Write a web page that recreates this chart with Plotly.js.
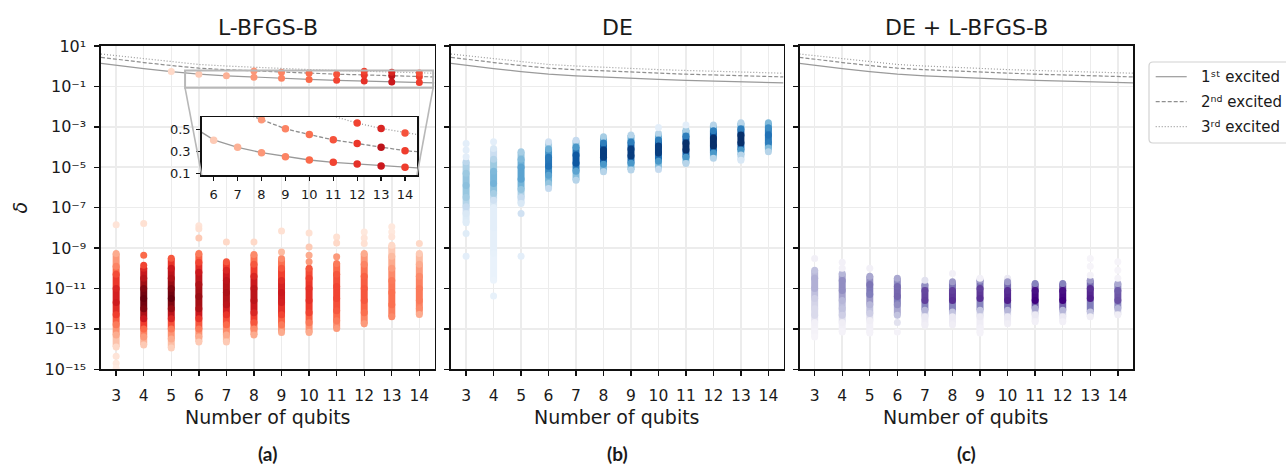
<!DOCTYPE html>
<html><head><meta charset="utf-8">
<script src="https://cdn.plot.ly/plotly-3.0.1.min.js"></script>
<style>html,body{margin:0;padding:0;background:#fff}</style>
</head><body><div id="chart" style="width:1286px;height:464px"></div>
<script>
// ---------------- data ----------------
const qubits = [3,4,5,6,7,8,9,10,11,12,13,14];
const panelTitles = ['L-BFGS-B', 'DE', 'DE + L-BFGS-B'];
const panelLabels = ['(a)', '(b)', '(c)'];
const yTickVals = [1e1,1e-1,1e-3,1e-5,1e-7,1e-9,1e-11,1e-13,1e-15];
const yTickText = ['10¹','10⁻¹','10⁻³','10⁻⁵','10⁻⁷','10⁻⁹','10⁻¹¹','10⁻¹³','10⁻¹⁵'];
const legendNames = ['1ˢᵗ excited','2ⁿᵈ excited','3ʳᵈ excited'];

// energy gaps of excited states
const gapX = [2.45,3,4,5,6,7,8,9,10,11,12,13,14,14.55];
const gap1 = [1.39,1.1,0.76,0.54,0.403,0.336,0.287,0.251,0.221,0.2,0.185,0.166,0.155,0.148];
const gap2 = [2.75,2.2,1.52,1.08,0.8,0.67,0.585,0.503,0.451,0.403,0.37,0.336,0.305,0.295];
const gap3 = [4.0,3.3,2.3,1.62,1.22,1.02,0.88,0.77,0.68,0.615,0.555,0.506,0.466,0.45];

// L-BFGS-B runs trapped in excited states
const trappedX = [5,6,7,8,8,9,9,10,10,11,11,12,12,12,13,13,13,14,14,14];
const trappedDelta = [0.54,0.40,0.336,0.287,0.585,0.251,0.503,0.221,0.451,0.20,0.403,0.185,0.37,0.555,0.166,0.336,0.506,0.155,0.305,0.466];
const trappedDensity = [0.15,0.2,0.28,0.36,0.36,0.42,0.42,0.5,0.48,0.6,0.56,0.66,0.64,0.6,0.75,0.8,0.7,0.62,0.62,0.56];

// per-column density profiles: [log10(delta), density] from top to bottom
const lbfgsbBars = [
 [[-9.27,0.3],[-9.9,0.42],[-10.3,0.58],[-11.0,0.7],[-11.7,0.74],[-12.3,0.62],[-12.8,0.45],[-13.3,0.3],[-13.9,0.15]],
 [[-10.0,0.7],[-10.5,0.82],[-11.0,0.95],[-11.5,1.0],[-12.0,0.95],[-12.5,0.75],[-13.0,0.5],[-13.4,0.35],[-13.8,0.2]],
 [[-9.5,0.55],[-10.0,0.75],[-10.5,0.85],[-11.0,0.95],[-11.5,1.0],[-12.0,0.9],[-12.5,0.7],[-13.0,0.45],[-13.5,0.3],[-13.95,0.18]],
 [[-9.27,0.45],[-9.7,0.6],[-10.2,0.75],[-10.8,0.85],[-11.4,0.9],[-12.0,0.85],[-12.5,0.65],[-13.0,0.45],[-13.4,0.3],[-13.65,0.2]],
 [[-9.68,0.55],[-10.1,0.7],[-10.6,0.8],[-11.2,0.85],[-11.8,0.8],[-12.3,0.65],[-12.8,0.5],[-13.3,0.3],[-13.65,0.2]],
 [[-9.32,0.4],[-9.8,0.55],[-10.4,0.7],[-11.0,0.8],[-11.6,0.8],[-12.2,0.7],[-12.7,0.55],[-13.0,0.4],[-13.3,0.3]],
 [[-9.52,0.4],[-10.0,0.55],[-10.6,0.68],[-11.2,0.75],[-11.7,0.72],[-12.3,0.6],[-12.8,0.45],[-13.18,0.3]],
 [[-10.0,0.55],[-10.5,0.62],[-11.0,0.66],[-11.6,0.66],[-12.2,0.6],[-12.7,0.45],[-13.18,0.3]],
 [[-9.76,0.45],[-10.3,0.55],[-10.9,0.6],[-11.5,0.6],[-12.1,0.55],[-12.6,0.45],[-12.98,0.35]],
 [[-9.27,0.3],[-9.8,0.42],[-10.4,0.52],[-11.0,0.55],[-11.6,0.55],[-12.2,0.48],[-12.74,0.35]],
 [[-8.86,0.15],[-9.4,0.25],[-10.0,0.35],[-10.6,0.45],[-11.2,0.48],[-11.8,0.48],[-12.4,0.4]],
 [[-9.27,0.2],[-9.8,0.3],[-10.4,0.4],[-11.0,0.45],[-11.6,0.45],[-12.0,0.4],[-12.29,0.3]]
];
const lbfgsbOutliers = [
 [[-7.85,0.1],[-14.35,0.1],[-14.7,0.08],[-14.95,0.06]],
 [[-7.78,0.12],[-9.35,0.5],[-9.85,0.6]],
 [],
 [[-7.9,0.1],[-8.05,0.12],[-8.5,0.2]],
 [[-8.7,0.15]],
 [[-8.7,0.15]],
 [[-8.16,0.12],[-9.19,0.25]],
 [[-8.25,0.12],[-8.95,0.2],[-9.35,0.3],[-9.68,0.35]],
 [[-8.45,0.12],[-8.75,0.15],[-9.43,0.35]],
 [[-8.2,0.08],[-8.5,0.1],[-8.77,0.12]],
 [[-7.95,0.08],[-8.2,0.08],[-8.44,0.1]],
 [[-8.77,0.15]]
];
const deBars = [
 [[-4.73,0.28],[-5.3,0.38],[-5.9,0.42],[-6.5,0.36],[-6.95,0.25],[-7.3,0.15],[-7.75,0.12]],
 [[-4.07,0.15],[-4.6,0.3],[-5.2,0.45],[-5.8,0.48],[-6.3,0.35],[-6.63,0.2],[-7.0,0.1],[-8.0,0.1],[-9.27,0.08],[-10.59,0.06]],
 [[-4.23,0.35],[-4.6,0.45],[-5.0,0.55],[-5.6,0.55],[-6.1,0.4],[-6.5,0.25],[-6.79,0.15]],
 [[-3.74,0.2],[-4.1,0.5],[-4.5,0.72],[-4.95,0.75],[-5.4,0.55],[-5.8,0.4],[-6.05,0.25]],
 [[-3.66,0.25],[-4.0,0.6],[-4.4,0.85],[-4.8,0.85],[-5.2,0.55],[-5.64,0.3]],
 [[-3.49,0.35],[-3.8,0.7],[-4.15,0.95],[-4.5,0.95],[-4.85,0.6],[-5.22,0.3]],
 [[-3.41,0.3],[-3.75,0.7],[-4.1,0.95],[-4.45,0.95],[-4.8,0.6],[-5.14,0.3]],
 [[-3.33,0.3],[-3.65,0.7],[-3.95,0.95],[-4.3,0.95],[-4.7,0.6],[-5.11,0.25]],
 [[-3.16,0.35],[-3.45,0.7],[-3.8,1.0],[-4.15,1.0],[-4.5,0.6],[-4.81,0.3]],
 [[-2.91,0.3],[-3.2,0.7],[-3.55,1.0],[-3.95,1.0],[-4.3,0.6],[-4.56,0.3]],
 [[-2.8,0.3],[-3.1,0.7],[-3.4,1.0],[-3.8,1.0],[-4.15,0.6],[-4.4,0.3],[-4.65,0.15]],
 [[-2.8,0.45],[-3.05,0.65],[-3.4,0.75],[-3.8,0.7],[-4.05,0.45],[-4.23,0.3]]
];
const deOutliers = [
 [[-3.82,0.1],[-4.15,0.1],[-4.48,0.1],[-8.28,0.12],[-9.4,0.1]],
 [[-3.74,0.1],[-11.37,0.08]],
 [[-7.29,0.2],[-9.4,0.1]],
 [],[],[],[],
 [[-3.03,0.1]],
 [[-2.91,0.1]],
 [],[],[]
];
const hybridBars = [
 [[-10.1,0.35],[-10.5,0.42],[-11.0,0.42],[-11.5,0.3],[-12.0,0.25],[-12.32,0.25],[-12.7,0.1],[-13.15,0.08],[-13.4,0.06]],
 [[-10.26,0.4],[-10.6,0.55],[-11.1,0.55],[-11.6,0.4],[-12.0,0.35],[-12.32,0.3],[-12.7,0.12],[-13.15,0.08]],
 [[-10.4,0.45],[-10.8,0.65],[-11.3,0.62],[-11.8,0.4],[-12.24,0.3],[-12.6,0.12],[-13.2,0.08]],
 [[-10.5,0.45],[-10.9,0.68],[-11.4,0.7],[-11.8,0.55],[-12.32,0.35]],
 [[-10.8,0.55],[-11.1,0.78],[-11.6,0.8],[-12.08,0.4],[-12.4,0.15],[-12.82,0.12]],
 [[-10.67,0.5],[-11.1,0.8],[-11.6,0.85],[-12.16,0.35],[-12.4,0.15],[-12.8,0.12]],
 [[-10.59,0.5],[-11.0,0.8],[-11.5,0.85],[-12.08,0.35],[-12.4,0.15],[-12.95,0.1],[-13.2,0.08]],
 [[-10.5,0.15],[-10.67,0.5],[-11.1,0.85],[-11.6,0.9],[-12.08,0.4],[-12.4,0.15],[-12.75,0.12]],
 [[-10.75,0.6],[-11.1,0.95],[-11.6,1.0],[-11.99,0.45],[-12.3,0.15],[-12.65,0.1]],
 [[-10.75,0.6],[-11.1,0.95],[-11.6,1.0],[-12.08,0.4],[-12.4,0.15],[-12.65,0.1]],
 [[-10.59,0.5],[-11.0,0.85],[-11.5,0.9],[-12.16,0.35],[-12.4,0.12]],
 [[-10.75,0.45],[-11.1,0.72],[-11.6,0.75],[-11.99,0.4],[-12.3,0.12]]
];
const hybridOutliers = [
 [[-9.52,0.1]],
 [[-9.7,0.1],[-10.0,0.1]],
 [[-10.0,0.1]],
 [[-12.69,0.2],[-13.15,0.08]],
 [[-10.59,0.2]],
 [[-10.26,0.1]],
 [[-10.5,0.1]],
 [],[],[],
 [[-9.52,0.06],[-9.9,0.06],[-10.34,0.08]],
 [[-9.68,0.06],[-10.1,0.06],[-10.5,0.08]]
];

// ---------------- styling ----------------
const REDS = ['#fff5f0','#fee0d2','#fcbba1','#fc9272','#fb6a4a','#ef3b2c','#cb181d','#a50f15','#67000d'];
const BLUES = ['#f7fbff','#deebf7','#c6dbef','#9ecae1','#6baed6','#4292c6','#2171b5','#08519c','#08306b'];
const PURPLES = ['#fcfbfd','#efedf5','#dadaeb','#bcbddc','#9e9ac8','#807dba','#6a51a3','#54278f','#3f007d'];
function hex2rgb(h){return [parseInt(h.slice(1,3),16),parseInt(h.slice(3,5),16),parseInt(h.slice(5,7),16)];}
function cmap(sc,t){
  t=Math.max(0,Math.min(1,t)); const n=sc.length-1; const f=t*n; const i=Math.min(Math.floor(f),n-1); const u=f-i;
  const a=hex2rgb(sc[i]), b=hex2rgb(sc[i+1]);
  return 'rgb('+a.map((v,k)=>Math.round(v+(b[k]-v)*u)).join(',')+')';
}
const W=1286, H=464;
const px=x=>x/W, py=y=>1-y/H;
const FONT='DejaVu Sans';
const TXT='#1a1a1a';
const GRID='#ececec';
const COLW=7;

const panels = [
  {bars:lbfgsbBars, out:lbfgsbOutliers, sc:REDS, xa:'x', ya:'y', dom:[101,434.5]},
  {bars:deBars, out:deOutliers, sc:BLUES, xa:'x2', ya:'y2', dom:[451,783.5]},
  {bars:hybridBars, out:hybridOutliers, sc:PURPLES, xa:'x3', ya:'y3', dom:[799.5,1133]}
];
const yDom=[py(369.3), py(46)];
const xRange=[2.45,14.55];

const traces=[];
const lineStyles=[{dash:'solid',color:'#9a9a9a'},{dash:'4px,2px',color:'#8f8f8f'},{dash:'1px,2px',color:'#9a9a9a'}];
const gaps=[gap1,gap2,gap3];
panels.forEach(p=>{
  gaps.forEach((g,k)=>traces.push({x:gapX,y:g,mode:'lines',xaxis:p.xa,yaxis:p.ya,line:{color:lineStyles[k].color,width:1.2,dash:lineStyles[k].dash},showlegend:false,hoverinfo:'skip'}));
});
panels.forEach(p=>{
  const mx=[],my=[],mc=[];
  p.bars.forEach((stops,j)=>{
    const xv=qubits[j];
    for(let i=0;i<stops.length-1;i++){
      traces.push({x:[xv,xv],y:[Math.pow(10,stops[i][0]),Math.pow(10,stops[i+1][0])],mode:'lines',xaxis:p.xa,yaxis:p.ya,
        line:{color:cmap(p.sc,(stops[i][1]+stops[i+1][1])/2),width:COLW},showlegend:false,hoverinfo:'skip'});
    }
    stops.concat(p.out[j]).forEach(s=>{mx.push(xv);my.push(Math.pow(10,s[0]));mc.push(cmap(p.sc,s[1]));});
  });
  traces.push({x:mx,y:my,mode:'markers',xaxis:p.xa,yaxis:p.ya,marker:{size:COLW,color:mc,line:{width:0}},showlegend:false,hoverinfo:'skip'});
});
const trappedColors=trappedDensity.map(d=>cmap(REDS,d));
traces.push({x:trappedX,y:trappedDelta,mode:'markers',xaxis:'x',yaxis:'y',marker:{size:7,color:trappedColors,line:{width:0}},showlegend:false,hoverinfo:'skip'});
gaps.forEach((g,k)=>traces.push({x:gapX,y:g,mode:'lines',xaxis:'x4',yaxis:'y4',line:{color:lineStyles[k].color,width:1.3,dash:lineStyles[k].dash},showlegend:false,hoverinfo:'skip'}));
traces.push({x:trappedX,y:trappedDelta,mode:'markers',xaxis:'x4',yaxis:'y4',marker:{size:7.5,color:trappedColors,line:{width:0}},showlegend:false,hoverinfo:'skip'});

// ---------------- layout ----------------
function xAxis(dom){return {domain:[px(dom[0]),px(dom[1])],range:xRange,tickmode:'array',tickvals:qubits,ticktext:qubits.map(String),
  showgrid:true,gridcolor:GRID,gridwidth:1.5,zeroline:false,showline:true,linecolor:'#111',linewidth:1.6,mirror:true,
  ticks:'outside',ticklen:5,tickwidth:1.4,tickcolor:'#111',ticklabelstandoff:6,tickfont:{family:FONT,size:15.5,color:TXT},fixedrange:true};}
function yAxis(anchor,labels){return {domain:yDom,type:'log',range:[-15,1],tickmode:'array',tickvals:yTickVals,ticktext:yTickText,
  showticklabels:labels,anchor:anchor,showgrid:true,gridcolor:GRID,gridwidth:1.5,zeroline:false,showline:true,linecolor:'#111',linewidth:1.6,mirror:true,
  ticks:'outside',ticklen:5,tickwidth:1.4,tickcolor:'#111',ticklabelstandoff:5,tickfont:{family:FONT,size:16,color:TXT},fixedrange:true};}

const xa4=[201.7,417], ya4=[175,117];
const layout={
  width:W,height:H,margin:{l:0,r:0,t:0,b:0},paper_bgcolor:'#ffffff',plot_bgcolor:'rgb(255,255,255)',showlegend:false,
  font:{family:FONT,color:TXT},
  xaxis:Object.assign(xAxis(panels[0].dom),{anchor:'y'}),
  yaxis:yAxis('x',true),
  xaxis2:Object.assign(xAxis(panels[1].dom),{anchor:'y2'}),
  yaxis2:yAxis('x2',false),
  xaxis3:Object.assign(xAxis(panels[2].dom),{anchor:'y3'}),
  yaxis3:yAxis('x3',false),
  xaxis4:{domain:[px(xa4[0]),px(xa4[1])],range:[5.5,14.5],anchor:'y4',tickmode:'array',tickvals:[6,7,8,9,10,11,12,13,14],
    showgrid:false,zeroline:false,showline:true,linecolor:'#111',linewidth:1.5,mirror:true,ticks:'outside',ticklen:4,tickwidth:1.3,tickcolor:'#111',
    ticklabelstandoff:3,tickfont:{family:FONT,size:13,color:TXT},fixedrange:true},
  yaxis4:{domain:[py(ya4[0]),py(ya4[1])],range:[0.085,0.61],anchor:'x4',tickmode:'array',tickvals:[0.1,0.3,0.5],ticktext:['0.1','0.3','0.5'],
    showgrid:false,zeroline:false,showline:true,linecolor:'#111',linewidth:1.5,mirror:true,ticks:'outside',ticklen:4,tickwidth:1.3,tickcolor:'#111',
    ticklabelstandoff:3,tickfont:{family:FONT,size:13,color:TXT},fixedrange:true},
  annotations:[],shapes:[]
};
panels.forEach((p,i)=>{
  const cx=px((p.dom[0]+p.dom[1])/2);
  layout.annotations.push({text:panelTitles[i],x:cx,y:py(27.5),xref:'paper',yref:'paper',xanchor:'center',yanchor:'middle',showarrow:false,font:{family:FONT,size:22,color:TXT}});
  layout.annotations.push({text:'Number of qubits',x:cx,y:py(416.5),xref:'paper',yref:'paper',xanchor:'center',yanchor:'middle',showarrow:false,font:{family:FONT,size:19,color:TXT}});
  layout.annotations.push({text:panelLabels[i],x:cx,y:py(453),xref:'paper',yref:'paper',xanchor:'center',yanchor:'middle',showarrow:false,font:{family:'Lato',size:19,weight:'bold',color:TXT}});
});
layout.annotations.push({text:'δ',x:px(20),y:py(207.6),xref:'paper',yref:'paper',xanchor:'center',yanchor:'middle',textangle:-90,showarrow:false,font:{family:FONT,size:19,style:'italic',color:TXT}});

const ax=panels[0].dom;
const mainToPaperX=x=>px(ax[0]+(x-xRange[0])/(xRange[1]-xRange[0])*(ax[1]-ax[0]));
const mainToPaperY=v=>yDom[0]+(Math.log10(v)+15)/16*(yDom[1]-yDom[0]);
const insetX=layout.xaxis4.range, insetY=layout.yaxis4.range;
layout.shapes.push({type:'rect',xref:'x',yref:'y',x0:insetX[0],x1:insetX[1],y0:insetY[0],y1:insetY[1],line:{color:'#b8b8b8',width:2},layer:'above'});
layout.shapes.push({type:'line',xref:'paper',yref:'paper',x0:mainToPaperX(insetX[0]),y0:mainToPaperY(insetY[0]),x1:px(xa4[0]),y1:py(ya4[0]),line:{color:'#b8b8b8',width:1.6}});
layout.shapes.push({type:'line',xref:'paper',yref:'paper',x0:mainToPaperX(insetX[1]),y0:mainToPaperY(insetY[0]),x1:px(xa4[1]),y1:py(ya4[0]),line:{color:'#b8b8b8',width:1.6}});

(function(){
  const L=1149,R=1296,T=62,B=143,r=4;
  const P=(x,y)=>px(x)+','+py(y);
  const path='M'+P(L+r,T)+' L'+P(R-r,T)+' Q'+P(R,T)+' '+P(R,T+r)+' L'+P(R,B-r)+' Q'+P(R,B)+' '+P(R-r,B)+
    ' L'+P(L+r,B)+' Q'+P(L,B)+' '+P(L,B-r)+' L'+P(L,T+r)+' Q'+P(L,T)+' '+P(L+r,T)+' Z';
  layout.shapes.push({type:'path',xref:'paper',yref:'paper',path:path,line:{color:'#d2d2d2',width:1.2},fillcolor:'rgba(255,255,255,0.9)'});
  const rows=[76.7,101.7,126.7];
  rows.forEach((yy,k)=>{
    layout.shapes.push({type:'line',xref:'paper',yref:'paper',x0:px(1155.7),x1:px(1186.7),y0:py(yy),y1:py(yy),line:{color:lineStyles[k].color,width:1.2,dash:lineStyles[k].dash}});
    layout.annotations.push({text:legendNames[k],x:px(1199),y:py(yy),xref:'paper',yref:'paper',xanchor:'left',yanchor:'middle',showarrow:false,font:{family:FONT,size:15,color:TXT}});
  });
})();

Plotly.newPlot('chart',traces,layout,{displayModeBar:false,staticPlot:true});
</script></body></html>
